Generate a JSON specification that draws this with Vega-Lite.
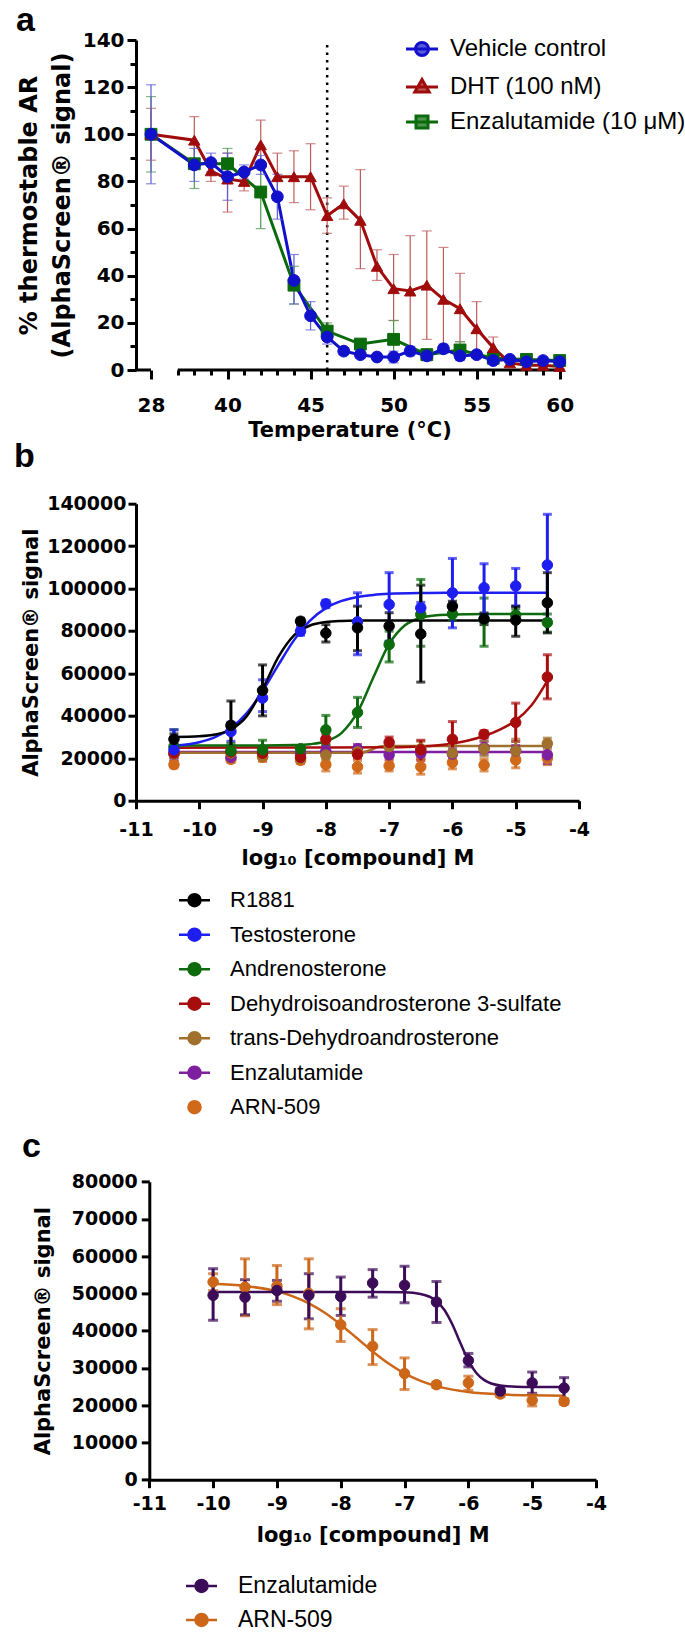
{
  "$schema": "https://vega.github.io/schema/vega-lite/v6.json",
  "padding": {"left": 14, "top": 3, "right": 2, "bottom": 2},
  "background": "white",
  "bounds": "flush",
  "spacing": 133.7,
  "resolve": {"scale": {"color": "independent", "fill": "independent", "stroke": "independent", "shape": "independent"}},
  "datasets": {
    "ta": [
      {"s": "Enzalutamide (10 μM)", "t": 28, "v": 100, "lo": 84, "hi": 116},
      {"s": "Enzalutamide (10 μM)", "t": 38, "v": 87.5, "lo": 77, "hi": 96},
      {"s": "Enzalutamide (10 μM)", "t": 40, "v": 87.5, "lo": 80, "hi": 94},
      {"s": "Enzalutamide (10 μM)", "t": 42, "v": 75.5, "lo": 60, "hi": 88},
      {"s": "Enzalutamide (10 μM)", "t": 44, "v": 36, "lo": 28, "hi": 44},
      {"s": "Enzalutamide (10 μM)", "t": 46, "v": 16.5, "lo": 13, "hi": 20},
      {"s": "Enzalutamide (10 μM)", "t": 48, "v": 11, "lo": 9, "hi": 13},
      {"s": "Enzalutamide (10 μM)", "t": 50, "v": 13, "lo": 5, "hi": 21},
      {"s": "Enzalutamide (10 μM)", "t": 52, "v": 6.5, "lo": 4, "hi": 9},
      {"s": "Enzalutamide (10 μM)", "t": 54, "v": 8.5, "lo": 5.5, "hi": 12},
      {"s": "Enzalutamide (10 μM)", "t": 56, "v": 5, "lo": 3.5, "hi": 6.5},
      {"s": "Enzalutamide (10 μM)", "t": 58, "v": 4.5, "lo": 3.5, "hi": 5.5},
      {"s": "Enzalutamide (10 μM)", "t": 60, "v": 4, "lo": 3, "hi": 5},
      {"s": "DHT (100 nM)", "t": 28, "v": 100, "lo": 89, "hi": 111},
      {"s": "DHT (100 nM)", "t": 38, "v": 97.5, "lo": 88, "hi": 107.5},
      {"s": "DHT (100 nM)", "t": 39, "v": 84.5, "lo": 80, "hi": 89},
      {"s": "DHT (100 nM)", "t": 40, "v": 81, "lo": 67, "hi": 92},
      {"s": "DHT (100 nM)", "t": 41, "v": 80, "lo": 76, "hi": 83},
      {"s": "DHT (100 nM)", "t": 42, "v": 95.5, "lo": 86, "hi": 106},
      {"s": "DHT (100 nM)", "t": 43, "v": 82, "lo": 72, "hi": 92},
      {"s": "DHT (100 nM)", "t": 44, "v": 82, "lo": 71, "hi": 93},
      {"s": "DHT (100 nM)", "t": 45, "v": 82, "lo": 68, "hi": 96},
      {"s": "DHT (100 nM)", "t": 46, "v": 65.5, "lo": 58, "hi": 73},
      {"s": "DHT (100 nM)", "t": 47, "v": 70.5, "lo": 64, "hi": 78},
      {"s": "DHT (100 nM)", "t": 48, "v": 63.5, "lo": 43, "hi": 85},
      {"s": "DHT (100 nM)", "t": 49, "v": 44, "lo": 38, "hi": 51},
      {"s": "DHT (100 nM)", "t": 50, "v": 34.5, "lo": 21, "hi": 49},
      {"s": "DHT (100 nM)", "t": 51, "v": 33.5, "lo": 10, "hi": 57},
      {"s": "DHT (100 nM)", "t": 52, "v": 36, "lo": 13, "hi": 59},
      {"s": "DHT (100 nM)", "t": 53, "v": 30, "lo": 8, "hi": 52},
      {"s": "DHT (100 nM)", "t": 54, "v": 26, "lo": 12, "hi": 41},
      {"s": "DHT (100 nM)", "t": 55, "v": 17.5, "lo": 6, "hi": 29},
      {"s": "DHT (100 nM)", "t": 56, "v": 9.5, "lo": 5, "hi": 14},
      {"s": "DHT (100 nM)", "t": 57, "v": 3, "lo": 2, "hi": 4},
      {"s": "DHT (100 nM)", "t": 58, "v": 2, "lo": 1, "hi": 3},
      {"s": "DHT (100 nM)", "t": 59, "v": 2, "lo": 1, "hi": 3},
      {"s": "DHT (100 nM)", "t": 60, "v": 1.5, "lo": 0.5, "hi": 2.5},
      {"s": "Vehicle control", "t": 28, "v": 100, "lo": 79, "hi": 121},
      {"s": "Vehicle control", "t": 38, "v": 87, "lo": 80, "hi": 94},
      {"s": "Vehicle control", "t": 39, "v": 88, "lo": 84, "hi": 92},
      {"s": "Vehicle control", "t": 40, "v": 82, "lo": 72, "hi": 92},
      {"s": "Vehicle control", "t": 41, "v": 84, "lo": 81, "hi": 87},
      {"s": "Vehicle control", "t": 42, "v": 87, "lo": 83, "hi": 91},
      {"s": "Vehicle control", "t": 43, "v": 73.5, "lo": 64, "hi": 83},
      {"s": "Vehicle control", "t": 44, "v": 38, "lo": 28, "hi": 49},
      {"s": "Vehicle control", "t": 45, "v": 23, "lo": 17, "hi": 29},
      {"s": "Vehicle control", "t": 46, "v": 14, "lo": 11, "hi": 17},
      {"s": "Vehicle control", "t": 47, "v": 8, "lo": 6.5, "hi": 9.5},
      {"s": "Vehicle control", "t": 48, "v": 6.5, "lo": 5, "hi": 8},
      {"s": "Vehicle control", "t": 49, "v": 5.5, "lo": 4.5, "hi": 6.5},
      {"s": "Vehicle control", "t": 50, "v": 5.5, "lo": 3, "hi": 8},
      {"s": "Vehicle control", "t": 51, "v": 8, "lo": 6, "hi": 10},
      {"s": "Vehicle control", "t": 52, "v": 6, "lo": 4, "hi": 8},
      {"s": "Vehicle control", "t": 53, "v": 9, "lo": 7, "hi": 11},
      {"s": "Vehicle control", "t": 54, "v": 6, "lo": 4, "hi": 8},
      {"s": "Vehicle control", "t": 55, "v": 6.5, "lo": 5, "hi": 8},
      {"s": "Vehicle control", "t": 56, "v": 4, "lo": 3, "hi": 5},
      {"s": "Vehicle control", "t": 57, "v": 4.5, "lo": 3.5, "hi": 5.5},
      {"s": "Vehicle control", "t": 58, "v": 3.5, "lo": 2.5, "hi": 4.5},
      {"s": "Vehicle control", "t": 59, "v": 4, "lo": 3, "hi": 5},
      {"s": "Vehicle control", "t": 60, "v": 3.5, "lo": 2.5, "hi": 4.5}
    ],
    "bp": [
      {"c": "ARN-509", "x": -10.4, "v": 17000, "lo": 15500, "hi": 18500},
      {"c": "ARN-509", "x": -9.5, "v": 19500, "lo": 18000, "hi": 21000},
      {"c": "ARN-509", "x": -9.0, "v": 20500, "lo": 18500, "hi": 22500},
      {"c": "ARN-509", "x": -8.4, "v": 19000, "lo": 17500, "hi": 20500},
      {"c": "ARN-509", "x": -8.0, "v": 17000, "lo": 14000, "hi": 20000},
      {"c": "ARN-509", "x": -7.5, "v": 16000, "lo": 13000, "hi": 19000},
      {"c": "ARN-509", "x": -7.0, "v": 16500, "lo": 14000, "hi": 19000},
      {"c": "ARN-509", "x": -6.5, "v": 16000, "lo": 12500, "hi": 19500},
      {"c": "ARN-509", "x": -6.0, "v": 18000, "lo": 15000, "hi": 21500},
      {"c": "ARN-509", "x": -5.5, "v": 16800, "lo": 14000, "hi": 19500},
      {"c": "ARN-509", "x": -5.0, "v": 19200, "lo": 15500, "hi": 23000},
      {"c": "ARN-509", "x": -4.5, "v": 20000, "lo": 17000, "hi": 23000},
      {"c": "Enzalutamide", "x": -10.4, "v": 22000, "lo": 19500, "hi": 24500},
      {"c": "Enzalutamide", "x": -9.5, "v": 20500, "lo": 19000, "hi": 22000},
      {"c": "Enzalutamide", "x": -9.0, "v": 22500, "lo": 20500, "hi": 24500},
      {"c": "Enzalutamide", "x": -8.4, "v": 22000, "lo": 20500, "hi": 23500},
      {"c": "Enzalutamide", "x": -8.0, "v": 23200, "lo": 21000, "hi": 25500},
      {"c": "Enzalutamide", "x": -7.5, "v": 24500, "lo": 22500, "hi": 26500},
      {"c": "Enzalutamide", "x": -7.0, "v": 21600, "lo": 19500, "hi": 23700},
      {"c": "Enzalutamide", "x": -6.5, "v": 22400, "lo": 20000, "hi": 25000},
      {"c": "Enzalutamide", "x": -6.0, "v": 22000, "lo": 19500, "hi": 24500},
      {"c": "Enzalutamide", "x": -5.5, "v": 25000, "lo": 22000, "hi": 28000},
      {"c": "Enzalutamide", "x": -5.0, "v": 23500, "lo": 21000, "hi": 26000},
      {"c": "Enzalutamide", "x": -4.5, "v": 21600, "lo": 17500, "hi": 25500},
      {"c": "trans-Dehydroandrosterone", "x": -10.4, "v": 22000, "lo": 20500, "hi": 23500},
      {"c": "trans-Dehydroandrosterone", "x": -9.5, "v": 22500, "lo": 20500, "hi": 24500},
      {"c": "trans-Dehydroandrosterone", "x": -9.0, "v": 21000, "lo": 19000, "hi": 23000},
      {"c": "trans-Dehydroandrosterone", "x": -8.4, "v": 20000, "lo": 18500, "hi": 21500},
      {"c": "trans-Dehydroandrosterone", "x": -8.0, "v": 21500, "lo": 19000, "hi": 24000},
      {"c": "trans-Dehydroandrosterone", "x": -7.5, "v": 23000, "lo": 21000, "hi": 25000},
      {"c": "trans-Dehydroandrosterone", "x": -7.0, "v": 25500, "lo": 22500, "hi": 28500},
      {"c": "trans-Dehydroandrosterone", "x": -6.5, "v": 24500, "lo": 21000, "hi": 28000},
      {"c": "trans-Dehydroandrosterone", "x": -6.0, "v": 22500, "lo": 19000, "hi": 26000},
      {"c": "trans-Dehydroandrosterone", "x": -5.5, "v": 24500, "lo": 21000, "hi": 28000},
      {"c": "trans-Dehydroandrosterone", "x": -5.0, "v": 23500, "lo": 20000, "hi": 29000},
      {"c": "trans-Dehydroandrosterone", "x": -4.5, "v": 27000, "lo": 24500, "hi": 29500},
      {"c": "Dehydroisoandrosterone 3-sulfate", "x": -10.4, "v": 22500, "lo": 20500, "hi": 24500},
      {"c": "Dehydroisoandrosterone 3-sulfate", "x": -9.5, "v": 23000, "lo": 21000, "hi": 25000},
      {"c": "Dehydroisoandrosterone 3-sulfate", "x": -9.0, "v": 22400, "lo": 20000, "hi": 25000},
      {"c": "Dehydroisoandrosterone 3-sulfate", "x": -8.4, "v": 20500, "lo": 19000, "hi": 22000},
      {"c": "Dehydroisoandrosterone 3-sulfate", "x": -8.0, "v": 29000, "lo": 26500, "hi": 31500},
      {"c": "Dehydroisoandrosterone 3-sulfate", "x": -7.5, "v": 21900, "lo": 20000, "hi": 24000},
      {"c": "Dehydroisoandrosterone 3-sulfate", "x": -7.0, "v": 27500, "lo": 25000, "hi": 30000},
      {"c": "Dehydroisoandrosterone 3-sulfate", "x": -6.5, "v": 24000, "lo": 19000, "hi": 28500},
      {"c": "Dehydroisoandrosterone 3-sulfate", "x": -6.0, "v": 29000, "lo": 21600, "hi": 37300},
      {"c": "Dehydroisoandrosterone 3-sulfate", "x": -5.5, "v": 31300, "lo": 29500, "hi": 33000},
      {"c": "Dehydroisoandrosterone 3-sulfate", "x": -5.0, "v": 36900, "lo": 27900, "hi": 46000},
      {"c": "Dehydroisoandrosterone 3-sulfate", "x": -4.5, "v": 58300, "lo": 48000, "hi": 68800},
      {"c": "Andrenosterone", "x": -10.4, "v": 25500, "lo": 22000, "hi": 33500},
      {"c": "Andrenosterone", "x": -9.5, "v": 23500, "lo": 21000, "hi": 27000},
      {"c": "Andrenosterone", "x": -9.0, "v": 24000, "lo": 20500, "hi": 28500},
      {"c": "Andrenosterone", "x": -8.4, "v": 24500, "lo": 23000, "hi": 26000},
      {"c": "Andrenosterone", "x": -8.0, "v": 33400, "lo": 26300, "hi": 40200},
      {"c": "Andrenosterone", "x": -7.5, "v": 41600, "lo": 34500, "hi": 48700},
      {"c": "Andrenosterone", "x": -7.0, "v": 73600, "lo": 65400, "hi": 79900},
      {"c": "Andrenosterone", "x": -6.5, "v": 87800, "lo": 72800, "hi": 104300},
      {"c": "Andrenosterone", "x": -6.0, "v": 88000, "lo": 85000, "hi": 91000},
      {"c": "Andrenosterone", "x": -5.5, "v": 85400, "lo": 72800, "hi": 95500},
      {"c": "Andrenosterone", "x": -5.0, "v": 87500, "lo": 84500, "hi": 90500},
      {"c": "Andrenosterone", "x": -4.5, "v": 84000, "lo": 79500, "hi": 88000},
      {"c": "Testosterone", "x": -10.4, "v": 24000, "lo": 18400, "hi": 33400},
      {"c": "Testosterone", "x": -9.5, "v": 32600, "lo": 28000, "hi": 37000},
      {"c": "Testosterone", "x": -9.0, "v": 48400, "lo": 42000, "hi": 57000},
      {"c": "Testosterone", "x": -8.4, "v": 79900, "lo": 78000, "hi": 82000},
      {"c": "Testosterone", "x": -8.0, "v": 92800, "lo": 91000, "hi": 94500},
      {"c": "Testosterone", "x": -7.5, "v": 84300, "lo": 68800, "hi": 98000},
      {"c": "Testosterone", "x": -7.0, "v": 92500, "lo": 75200, "hi": 107500},
      {"c": "Testosterone", "x": -6.5, "v": 90900, "lo": 88000, "hi": 93500},
      {"c": "Testosterone", "x": -6.0, "v": 98000, "lo": 81500, "hi": 114200},
      {"c": "Testosterone", "x": -5.5, "v": 100400, "lo": 87800, "hi": 111700},
      {"c": "Testosterone", "x": -5.0, "v": 101200, "lo": 91700, "hi": 109500},
      {"c": "Testosterone", "x": -4.5, "v": 111100, "lo": 85400, "hi": 135000},
      {"c": "R1881", "x": -10.4, "v": 29000, "lo": 26500, "hi": 31500},
      {"c": "R1881", "x": -9.5, "v": 35500, "lo": 24000, "hi": 47000},
      {"c": "R1881", "x": -9.0, "v": 52000, "lo": 40000, "hi": 64000},
      {"c": "R1881", "x": -8.4, "v": 84600, "lo": 83000, "hi": 86000},
      {"c": "R1881", "x": -8.0, "v": 79000, "lo": 74800, "hi": 83000},
      {"c": "R1881", "x": -7.5, "v": 81500, "lo": 70700, "hi": 91700},
      {"c": "R1881", "x": -7.0, "v": 82300, "lo": 74800, "hi": 88600},
      {"c": "R1881", "x": -6.5, "v": 78600, "lo": 55900, "hi": 101600},
      {"c": "R1881", "x": -6.0, "v": 91700, "lo": 89500, "hi": 94000},
      {"c": "R1881", "x": -5.5, "v": 85700, "lo": 83000, "hi": 88500},
      {"c": "R1881", "x": -5.0, "v": 85100, "lo": 77500, "hi": 91700},
      {"c": "R1881", "x": -4.5, "v": 93300, "lo": 79100, "hi": 107500}
    ],
    "bc": [
      {"c": "Enzalutamide", "x": -10.4, "v": 23000},
      {"c": "Enzalutamide", "x": -4.5, "v": 23000},
      {"c": "trans-Dehydroandrosterone", "x": -10.4, "v": 22600},
      {"c": "trans-Dehydroandrosterone", "x": -7.45, "v": 22600},
      {"c": "trans-Dehydroandrosterone", "x": -7.3, "v": 23800},
      {"c": "trans-Dehydroandrosterone", "x": -7.15, "v": 25600},
      {"c": "trans-Dehydroandrosterone", "x": -7.0, "v": 25800},
      {"c": "trans-Dehydroandrosterone", "x": -4.5, "v": 25800},
      {"c": "Dehydroisoandrosterone 3-sulfate", "x": -10.4, "v": 25000},
      {"c": "Dehydroisoandrosterone 3-sulfate", "x": -8.0, "v": 25050},
      {"c": "Dehydroisoandrosterone 3-sulfate", "x": -7.0, "v": 25200},
      {"c": "Dehydroisoandrosterone 3-sulfate", "x": -6.5, "v": 25600},
      {"c": "Dehydroisoandrosterone 3-sulfate", "x": -6.0, "v": 27000},
      {"c": "Dehydroisoandrosterone 3-sulfate", "x": -5.75, "v": 28400},
      {"c": "Dehydroisoandrosterone 3-sulfate", "x": -5.5, "v": 30500},
      {"c": "Dehydroisoandrosterone 3-sulfate", "x": -5.25, "v": 33500},
      {"c": "Dehydroisoandrosterone 3-sulfate", "x": -5.0, "v": 37800},
      {"c": "Dehydroisoandrosterone 3-sulfate", "x": -4.75, "v": 45000},
      {"c": "Dehydroisoandrosterone 3-sulfate", "x": -4.5, "v": 56500},
      {"c": "Andrenosterone", "x": -10.4, "v": 26000},
      {"c": "Andrenosterone", "x": -9.0, "v": 26010},
      {"c": "Andrenosterone", "x": -8.5, "v": 26210},
      {"c": "Andrenosterone", "x": -8.25, "v": 26660},
      {"c": "Andrenosterone", "x": -8.0, "v": 28030},
      {"c": "Andrenosterone", "x": -7.75, "v": 32000},
      {"c": "Andrenosterone", "x": -7.5, "v": 41700},
      {"c": "Andrenosterone", "x": -7.25, "v": 58070},
      {"c": "Andrenosterone", "x": -7.0, "v": 73880},
      {"c": "Andrenosterone", "x": -6.75, "v": 82710},
      {"c": "Andrenosterone", "x": -6.5, "v": 86220},
      {"c": "Andrenosterone", "x": -6.25, "v": 87430},
      {"c": "Andrenosterone", "x": -6.0, "v": 87820},
      {"c": "Andrenosterone", "x": -5.5, "v": 87980},
      {"c": "Andrenosterone", "x": -4.5, "v": 88000},
      {"c": "Testosterone", "x": -10.4, "v": 25870},
      {"c": "Testosterone", "x": -10.0, "v": 27560},
      {"c": "Testosterone", "x": -9.75, "v": 29930},
      {"c": "Testosterone", "x": -9.5, "v": 34220},
      {"c": "Testosterone", "x": -9.25, "v": 41330},
      {"c": "Testosterone", "x": -9.0, "v": 51640},
      {"c": "Testosterone", "x": -8.75, "v": 64020},
      {"c": "Testosterone", "x": -8.5, "v": 75800},
      {"c": "Testosterone", "x": -8.25, "v": 84900},
      {"c": "Testosterone", "x": -8.0, "v": 90800},
      {"c": "Testosterone", "x": -7.75, "v": 94200},
      {"c": "Testosterone", "x": -7.5, "v": 96050},
      {"c": "Testosterone", "x": -7.25, "v": 97000},
      {"c": "Testosterone", "x": -7.0, "v": 97500},
      {"c": "Testosterone", "x": -6.5, "v": 97870},
      {"c": "Testosterone", "x": -6.0, "v": 97970},
      {"c": "Testosterone", "x": -4.5, "v": 98000},
      {"c": "R1881", "x": -10.4, "v": 30060},
      {"c": "R1881", "x": -10.0, "v": 30380},
      {"c": "R1881", "x": -9.75, "v": 31180},
      {"c": "R1881", "x": -9.5, "v": 33560},
      {"c": "R1881", "x": -9.25, "v": 39870},
      {"c": "R1881", "x": -9.0, "v": 52500},
      {"c": "R1881", "x": -8.75, "v": 67750},
      {"c": "R1881", "x": -8.5, "v": 78060},
      {"c": "R1881", "x": -8.25, "v": 82600},
      {"c": "R1881", "x": -8.0, "v": 84220},
      {"c": "R1881", "x": -7.75, "v": 84750},
      {"c": "R1881", "x": -7.5, "v": 84920},
      {"c": "R1881", "x": -7.0, "v": 84990},
      {"c": "R1881", "x": -6.0, "v": 85000},
      {"c": "R1881", "x": -4.5, "v": 85000}
    ],
    "cp": [
      {"c": "ARN-509", "x": -10, "v": 53100, "lo": 50800, "hi": 55300},
      {"c": "ARN-509", "x": -9.5, "v": 51700, "lo": 44000, "hi": 59300},
      {"c": "ARN-509", "x": -9, "v": 52000, "lo": 47000, "hi": 57500},
      {"c": "ARN-509", "x": -8.5, "v": 50000, "lo": 40500, "hi": 59300},
      {"c": "ARN-509", "x": -8, "v": 41600, "lo": 37100, "hi": 45900},
      {"c": "ARN-509", "x": -7.5, "v": 35800, "lo": 30900, "hi": 40300},
      {"c": "ARN-509", "x": -7, "v": 28500, "lo": 24200, "hi": 32700},
      {"c": "ARN-509", "x": -6.5, "v": 25500, "lo": 24800, "hi": 26200},
      {"c": "ARN-509", "x": -6, "v": 26000, "lo": 24000, "hi": 27800},
      {"c": "ARN-509", "x": -5.5, "v": 23000, "lo": 22300, "hi": 23700},
      {"c": "ARN-509", "x": -5, "v": 21300, "lo": 19800, "hi": 22800},
      {"c": "ARN-509", "x": -4.5, "v": 21000, "lo": 20300, "hi": 21700},
      {"c": "Enzalutamide", "x": -10, "v": 49500, "lo": 42800, "hi": 56650},
      {"c": "Enzalutamide", "x": -9.5, "v": 49000, "lo": 44300, "hi": 53700},
      {"c": "Enzalutamide", "x": -9, "v": 50800, "lo": 47900, "hi": 53500},
      {"c": "Enzalutamide", "x": -8.5, "v": 49500, "lo": 43200, "hi": 55300},
      {"c": "Enzalutamide", "x": -8, "v": 49200, "lo": 44100, "hi": 54400},
      {"c": "Enzalutamide", "x": -7.5, "v": 52800, "lo": 49000, "hi": 56400},
      {"c": "Enzalutamide", "x": -7, "v": 52200, "lo": 47500, "hi": 57300},
      {"c": "Enzalutamide", "x": -6.5, "v": 47700, "lo": 42200, "hi": 53200},
      {"c": "Enzalutamide", "x": -6, "v": 32000, "lo": 30300, "hi": 33900},
      {"c": "Enzalutamide", "x": -5.5, "v": 23800, "lo": 23000, "hi": 24600},
      {"c": "Enzalutamide", "x": -5, "v": 26000, "lo": 23200, "hi": 28900},
      {"c": "Enzalutamide", "x": -4.5, "v": 24600, "lo": 21600, "hi": 27400}
    ],
    "cc": [
      {"c": "ARN-509", "x": -10, "v": 52615},
      {"c": "ARN-509", "x": -9.5, "v": 52014},
      {"c": "ARN-509", "x": -9, "v": 50550},
      {"c": "ARN-509", "x": -8.75, "v": 49230},
      {"c": "ARN-509", "x": -8.5, "v": 47340},
      {"c": "ARN-509", "x": -8.25, "v": 44800},
      {"c": "ARN-509", "x": -8, "v": 41610},
      {"c": "ARN-509", "x": -7.75, "v": 38050},
      {"c": "ARN-509", "x": -7.5, "v": 34430},
      {"c": "ARN-509", "x": -7.25, "v": 31190},
      {"c": "ARN-509", "x": -7, "v": 28530},
      {"c": "ARN-509", "x": -6.75, "v": 26534},
      {"c": "ARN-509", "x": -6.5, "v": 25130},
      {"c": "ARN-509", "x": -6.25, "v": 24183},
      {"c": "ARN-509", "x": -6, "v": 23562},
      {"c": "ARN-509", "x": -5.5, "v": 22916},
      {"c": "ARN-509", "x": -5, "v": 22660},
      {"c": "ARN-509", "x": -4.5, "v": 22562},
      {"c": "Enzalutamide", "x": -10, "v": 50400},
      {"c": "Enzalutamide", "x": -7.5, "v": 50396},
      {"c": "Enzalutamide", "x": -7, "v": 50290},
      {"c": "Enzalutamide", "x": -6.75, "v": 49875},
      {"c": "Enzalutamide", "x": -6.5, "v": 47977},
      {"c": "Enzalutamide", "x": -6.375, "v": 45560},
      {"c": "Enzalutamide", "x": -6.25, "v": 41650},
      {"c": "Enzalutamide", "x": -6.125, "v": 36667},
      {"c": "Enzalutamide", "x": -6, "v": 31972},
      {"c": "Enzalutamide", "x": -5.875, "v": 28639},
      {"c": "Enzalutamide", "x": -5.75, "v": 26725},
      {"c": "Enzalutamide", "x": -5.5, "v": 25289},
      {"c": "Enzalutamide", "x": -5.25, "v": 24978},
      {"c": "Enzalutamide", "x": -5, "v": 24915},
      {"c": "Enzalutamide", "x": -4.5, "v": 24900}
    ]
  },
  "vconcat": [
    {
      "width": 427,
      "height": 330,
      "title": {"text": "a", "anchor": "start", "frame": "group", "dx": -120, "dy": 51.7, "offset": 17, "baseline": "alphabetic", "fontSize": 34, "font": "Liberation Sans", "fontWeight": "bold", "color": "#000"},
      "resolve": {"axis": {"x": "independent", "y": "independent"}},
      "layer": [
        {
          "data": {"name": "ta"},
          "mark": {"type": "line", "strokeWidth": 3},
          "encoding": {
            "x": {"field": "t", "type": "quantitative", "axis": null, "scale": {"domain": [26.5, 29.5, 37, 60.2], "range": [0, 30, 41.7, 427], "nice": false, "zero": false}},
            "y": {"field": "v", "type": "quantitative", "axis": null, "scale": {"domain": [0, 140], "nice": false, "zero": false}},
            "stroke": {"field": "s", "type": "nominal", "scale": {"domain": ["Vehicle control", "DHT (100 nM)", "Enzalutamide (10 μM)"], "range": ["#1111cc", "#a00c0c", "#0b6a0b"]},
              "legend": {"orient": "none", "legendX": 274, "legendY": -3, "title": null, "labelFontSize": 24, "labelFont": "Liberation Sans", "labelLimit": 400, "symbolSize": 400, "symbolStrokeWidth": 3, "labelOffset": 16, "rowPadding": 11,
                "encode": {"symbols": {"update": {"shape": {"signal": "datum.value === 'Vehicle control' ? 'M-1.6,0H1.6M-0.65,0A0.65,0.65,0,1,1,0.65,0A0.65,0.65,0,1,1,-0.65,0Z' : (datum.value === 'DHT (100 nM)' ? 'M-1.6,0H1.6M0,-0.75L0.72,0.5L-0.72,0.5Z' : 'M-1.6,0H1.6M-0.6,-0.6H0.6V0.6H-0.6Z')"}}}}}}
          }
        },
        {
          "data": {"values": [{}]},
          "mark": {"type": "rule", "strokeWidth": 3, "color": "#000"},
          "encoding": {
            "x": {"datum": 26.5, "type": "quantitative",
              "axis": {"orient": "bottom", "values": [37, 38, 39, 41, 42, 43, 44, 46, 47, 48, 49, 51, 52, 53, 54, 56, 57, 58, 59], "labels": false, "domain": false, "tickSize": 5, "title": null}},
            "x2": {"datum": 28},
            "y": {"datum": 0, "type": "quantitative",
              "axis": {"orient": "left", "values": [10, 30, 50, 70, 90, 110, 130], "labels": false, "domain": false, "tickSize": 6, "title": null}}
          }
        },
        {
          "data": {"values": [{}]},
          "mark": {"type": "rule", "strokeWidth": 3, "color": "#000"},
          "encoding": {
            "x": {"datum": 37, "type": "quantitative", "axis": null},
            "x2": {"datum": 60.2},
            "y": {"datum": 0, "type": "quantitative", "axis": null}
          }
        },
        {
          "data": {"values": [{}]},
          "mark": {"type": "rule", "strokeWidth": 2.5, "strokeDash": [2.5, 5], "color": "#000"},
          "encoding": {
            "x": {"datum": 46, "type": "quantitative", "axis": null},
            "y": {"datum": 0, "type": "quantitative", "axis": null},
            "y2": {"datum": 140}
          }
        },
        {
          "data": {"name": "ta"},
          "mark": {"type": "errorbar", "thickness": 1.2, "ticks": {"size": 10, "thickness": 1.2}},
          "encoding": {
            "x": {"field": "t", "type": "quantitative", "axis": null},
            "y": {"field": "lo", "type": "quantitative", "axis": null},
            "y2": {"field": "hi"},
            "color": {"field": "s", "type": "nominal", "scale": {"domain": ["Vehicle control", "DHT (100 nM)", "Enzalutamide (10 μM)"], "range": ["#5a5ad8", "#bc5a5a", "#4f954f"]}, "legend": null}
          }
        },
        {
          "data": {"name": "ta"},
          "transform": [{"filter": "datum.s === 'Enzalutamide (10 μM)'"}],
          "mark": {"type": "point", "shape": "square", "filled": true, "size": 140, "strokeWidth": 1, "opacity": 1},
          "encoding": {
            "x": {"field": "t", "type": "quantitative", "axis": null},
            "y": {"field": "v", "type": "quantitative", "axis": null},
            "fill": {"field": "s", "type": "nominal", "scale": {"domain": ["Vehicle control", "DHT (100 nM)", "Enzalutamide (10 μM)"], "range": ["#1111cc", "#a00c0c", "#0b6a0b"]},
              "legend": {"orient": "none", "legendX": 274, "legendY": -3, "title": null, "labelFontSize": 24, "labelFont": "Liberation Sans", "labelLimit": 400, "symbolSize": 400, "symbolStrokeWidth": 3, "labelOffset": 16, "rowPadding": 11}},
            "stroke": {"field": "s", "type": "nominal"}
          }
        },
        {
          "data": {"name": "ta"},
          "transform": [{"filter": "datum.s === 'DHT (100 nM)'"}],
          "mark": {"type": "point", "shape": "triangle-up", "filled": true, "size": 130, "strokeWidth": 1, "opacity": 1},
          "encoding": {
            "x": {"field": "t", "type": "quantitative", "axis": null},
            "y": {"field": "v", "type": "quantitative", "axis": null},
            "fill": {"field": "s", "type": "nominal"},
            "stroke": {"field": "s", "type": "nominal"}
          }
        },
        {
          "data": {"name": "ta"},
          "transform": [{"filter": "datum.s === 'Vehicle control'"}],
          "mark": {"type": "point", "shape": "circle", "filled": true, "size": 140, "strokeWidth": 1, "opacity": 1},
          "encoding": {
            "x": {"field": "t", "type": "quantitative",
              "axis": {"orient": "bottom", "title": "Temperature (°C)", "domain": false, "values": [28, 40, 45, 50, 55, 60], "labelExpr": "'' + datum.value", "tickSize": 9,
                "labelFontSize": 20, "titleFontSize": 21, "labelPadding": 16, "titlePadding": 4}},
            "y": {"field": "v", "type": "quantitative",
              "axis": {"orient": "left", "title": ["% thermostable AR", "(AlphaScreen® signal)"], "values": [0, 20, 40, 60, 80, 100, 120, 140], "labelExpr": "'' + datum.value", "tickSize": 9,
                "labelFontSize": 20, "titleFontSize": 24, "titleLineHeight": 33, "labelPadding": 3, "titlePadding": 8}},
            "fill": {"field": "s", "type": "nominal"},
            "stroke": {"field": "s", "type": "nominal"}
          }
        }
      ]
    },
    {
      "width": 443,
      "height": 297,
      "title": {"text": "b", "anchor": "start", "frame": "group", "dx": -122, "dy": 42, "offset": 36, "baseline": "alphabetic", "fontSize": 34, "font": "Liberation Sans", "fontWeight": "bold", "color": "#000"},
      "layer": [
        {
          "data": {"name": "bc"},
          "mark": {"type": "line", "strokeWidth": 2.5, "interpolate": "monotone"},
          "encoding": {
            "x": {"field": "x", "type": "quantitative", "title": "log₁₀ [compound] M", "scale": {"domain": [-11, -4], "nice": false, "zero": false},
              "axis": {"title": "log₁₀ [compound] M", "labelOverlap": false, "values": [-11, -10, -9, -8, -7, -6, -5, -4], "labelExpr": "'' + datum.value", "labelFontSize": 19, "titleFontSize": 21, "labelPadding": 12, "titlePadding": 8}},
            "y": {"field": "v", "type": "quantitative", "title": "AlphaScreen® signal", "scale": {"domain": [0, 140000], "nice": false, "zero": false},
              "axis": {"title": "AlphaScreen® signal", "labelOverlap": false, "values": [0, 20000, 40000, 60000, 80000, 100000, 120000, 140000], "labelExpr": "'' + datum.value", "labelFontSize": 19, "titleFontSize": 21, "labelPadding": 2, "titlePadding": 5}},
            "stroke": {"field": "c", "type": "nominal",
              "scale": {"domain": ["R1881", "Testosterone", "Andrenosterone", "Dehydroisoandrosterone 3-sulfate", "trans-Dehydroandrosterone", "Enzalutamide", "ARN-509"], "range": ["#000000", "#1e1ef0", "#0d6a0d", "#a80d0d", "#a0702c", "#7d1fa0", "#d0691a"]},
              "legend": {"orient": "none", "legendX": 47, "legendY": 385, "title": null, "labelFontSize": 22, "labelFont": "Liberation Sans", "labelLimit": 500, "symbolSize": 400, "symbolStrokeWidth": 2.5, "labelOffset": 24, "rowPadding": 11.5,
                "encode": {"symbols": {"update": {"shape": {"signal": "datum.value === 'ARN-509' ? 'M-0.6,0A0.6,0.6,0,1,1,0.6,0A0.6,0.6,0,1,1,-0.6,0Z' : 'M-1.55,0H1.55M-0.6,0A0.6,0.6,0,1,1,0.6,0A0.6,0.6,0,1,1,-0.6,0Z'"}}}}}}
          }
        },
        {
          "data": {"name": "bp"},
          "mark": {"type": "errorbar", "thickness": 3, "ticks": {"size": 9, "thickness": 3}},
          "encoding": {
            "x": {"field": "x", "type": "quantitative", "title": "log₁₀ [compound] M"},
            "y": {"field": "lo", "type": "quantitative", "title": "AlphaScreen® signal"},
            "y2": {"field": "hi"},
            "color": {"field": "c", "type": "nominal",
              "scale": {"domain": ["R1881", "Testosterone", "Andrenosterone", "Dehydroisoandrosterone 3-sulfate", "trans-Dehydroandrosterone", "Enzalutamide", "ARN-509"], "range": ["#000000", "#1e1ef0", "#0d6a0d", "#a80d0d", "#a0702c", "#7d1fa0", "#d0691a"]}, "legend": null}
          }
        },
        {
          "data": {"name": "bp"},
          "mark": {"type": "point", "filled": true, "size": 110, "shape": "circle", "opacity": 1, "strokeWidth": 1},
          "encoding": {
            "x": {"field": "x", "type": "quantitative", "title": "log₁₀ [compound] M"},
            "y": {"field": "v", "type": "quantitative", "title": "AlphaScreen® signal"},
            "fill": {"field": "c", "type": "nominal",
              "scale": {"domain": ["R1881", "Testosterone", "Andrenosterone", "Dehydroisoandrosterone 3-sulfate", "trans-Dehydroandrosterone", "Enzalutamide", "ARN-509"], "range": ["#000000", "#1e1ef0", "#0d6a0d", "#a80d0d", "#a0702c", "#7d1fa0", "#d0691a"]},
              "legend": {"orient": "none", "legendX": 47, "legendY": 385, "title": null, "labelFontSize": 22, "labelFont": "Liberation Sans", "labelLimit": 500, "symbolSize": 400, "symbolStrokeWidth": 2.5, "labelOffset": 24, "rowPadding": 11.5}},
            "stroke": {"field": "c", "type": "nominal"}
          }
        }
      ]
    },
    {
      "width": 460,
      "height": 545.3,
      "title": {"text": "c", "anchor": "start", "frame": "group", "dx": -114, "dy": 282.3, "offset": 26, "baseline": "alphabetic", "fontSize": 34, "font": "Liberation Sans", "fontWeight": "bold", "color": "#000"},
      "layer": [
        {
          "data": {"name": "cc"},
          "mark": {"type": "line", "strokeWidth": 2.5, "interpolate": "monotone"},
          "encoding": {
            "x": {"field": "x", "type": "quantitative", "title": "log₁₀ [compound] M", "scale": {"domain": [-11, -4], "range": [13.3, 460], "nice": false, "zero": false},
              "axis": {"title": "log₁₀ [compound] M", "labelOverlap": false, "values": [-11, -10, -9, -8, -7, -6, -5, -4], "labelExpr": "'' + datum.value", "labelFontSize": 19, "titleFontSize": 21, "labelPadding": 7, "titlePadding": 11}},
            "y": {"field": "v", "type": "quantitative", "title": "AlphaScreen® signal", "scale": {"domain": [0, 80000], "range": [545.3, 247.3], "nice": false, "zero": false},
              "axis": {"title": "AlphaScreen® signal", "labelOverlap": false, "offset": -13.3, "values": [0, 10000, 20000, 30000, 40000, 50000, 60000, 70000, 80000], "labelExpr": "'' + datum.value", "labelFontSize": 19, "titleFontSize": 21, "labelPadding": 4, "titlePadding": 18}},
            "stroke": {"field": "c", "type": "nominal", "scale": {"domain": ["Enzalutamide", "ARN-509"], "range": ["#3c0c58", "#cc6619"]},
              "legend": {"orient": "none", "legendX": 54, "legendY": 640, "title": null, "labelFontSize": 23, "labelFont": "Liberation Sans", "labelLimit": 400, "symbolSize": 400, "symbolStrokeWidth": 2.5, "labelOffset": 25, "rowPadding": 10,
                "symbolType": "M-1.55,0H1.55M-0.6,0A0.6,0.6,0,1,1,0.6,0A0.6,0.6,0,1,1,-0.6,0Z"}}
          }
        },
        {
          "data": {"name": "cp"},
          "mark": {"type": "errorbar", "thickness": 3, "ticks": {"size": 10, "thickness": 3}},
          "encoding": {
            "x": {"field": "x", "type": "quantitative", "title": "log₁₀ [compound] M"},
            "y": {"field": "lo", "type": "quantitative", "title": "AlphaScreen® signal"},
            "y2": {"field": "hi"},
            "color": {"field": "c", "type": "nominal", "scale": {"domain": ["Enzalutamide", "ARN-509"], "range": ["#3c0c58", "#cc6619"]}, "legend": null}
          }
        },
        {
          "data": {"name": "cp"},
          "mark": {"type": "point", "filled": true, "size": 110, "shape": "circle", "opacity": 1, "strokeWidth": 1},
          "encoding": {
            "x": {"field": "x", "type": "quantitative", "title": "log₁₀ [compound] M"},
            "y": {"field": "v", "type": "quantitative", "title": "AlphaScreen® signal"},
            "fill": {"field": "c", "type": "nominal", "scale": {"domain": ["Enzalutamide", "ARN-509"], "range": ["#3c0c58", "#cc6619"]},
              "legend": {"orient": "none", "legendX": 54, "legendY": 640, "title": null, "labelFontSize": 23, "labelFont": "Liberation Sans", "labelLimit": 400, "symbolSize": 400, "symbolStrokeWidth": 2.5, "labelOffset": 25, "rowPadding": 10,
                "symbolType": "M-1.55,0H1.55M-0.6,0A0.6,0.6,0,1,1,0.6,0A0.6,0.6,0,1,1,-0.6,0Z"}},
            "stroke": {"field": "c", "type": "nominal"}
          }
        }
      ]
    }
  ],
  "config": {
    "view": {"stroke": null},
    "axis": {"grid": false, "domainColor": "#000", "domainWidth": 3, "tickColor": "#000", "tickWidth": 3, "tickSize": 8, "labelColor": "#000", "labelFont": "DejaVu Sans", "labelFontWeight": "bold", "titleFont": "DejaVu Sans", "titleFontWeight": "bold", "titleColor": "#000", "labelFlush": false, "labelOverlap": false},
    "legend": {"labelColor": "#000", "padding": 0, "labelFont": "Liberation Sans", "labelLimit": 500}
  }
}
